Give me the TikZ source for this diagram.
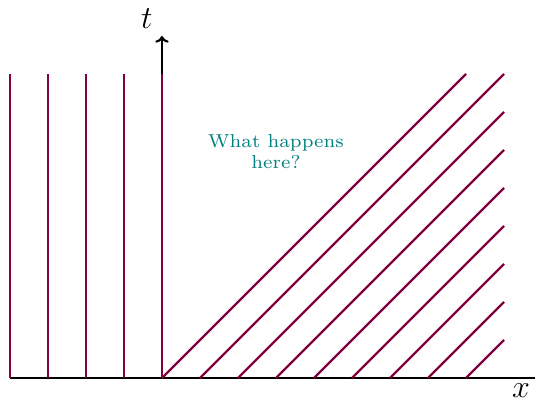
\documentclass[tikz,border=0pt]{standalone}
\usetikzlibrary{arrows.meta}
\definecolor{wline}{RGB}{128,0,64}
\begin{document}
\begin{tikzpicture}[x=0.5cm,y=0.5cm,
  wave/.style={wline,thick},
  axis/.style={black,thick,-{To[length=2.5pt,width=5pt]}}]
\useasboundingbox (-4.263,-0.579) rectangle (9.816,9.947);
% axes
\coordinate (xs) at (-4,0);
\coordinate (xe) at (10,0);
\coordinate (ts) at (0,0);
\coordinate (te) at (0,9);
\draw[axis] (xs) -- (xe);
\draw[axis] (ts) -- (te);
% vertical characteristics
\foreach \i in {-4,...,0}{
  \coordinate (b\i) at (\i,0);
  \coordinate (e\i) at (\i,8);
  \draw[wave] (b\i) -- (e\i);
}
% diagonal characteristics
\coordinate (d0) at (0,0);
\coordinate (f0) at (8,8);
\draw[wave] (d0) -- (f0);
\foreach \k in {1,...,8}{
  \coordinate (d\k) at (\k,0);
  \coordinate (f\k) at (9,9-\k);
  \draw[wave] (d\k) -- (f\k);
}
\node[font=\large] (tl) at (-0.4,9.45) {$t$};
\node[font=\large] (xl) at (9.45,-0.33) {$x$};
\node[teal,font=\scriptsize,align=center] (q) at (3.0,5.95) {What happens\\here?};
\end{tikzpicture}
\end{document}
